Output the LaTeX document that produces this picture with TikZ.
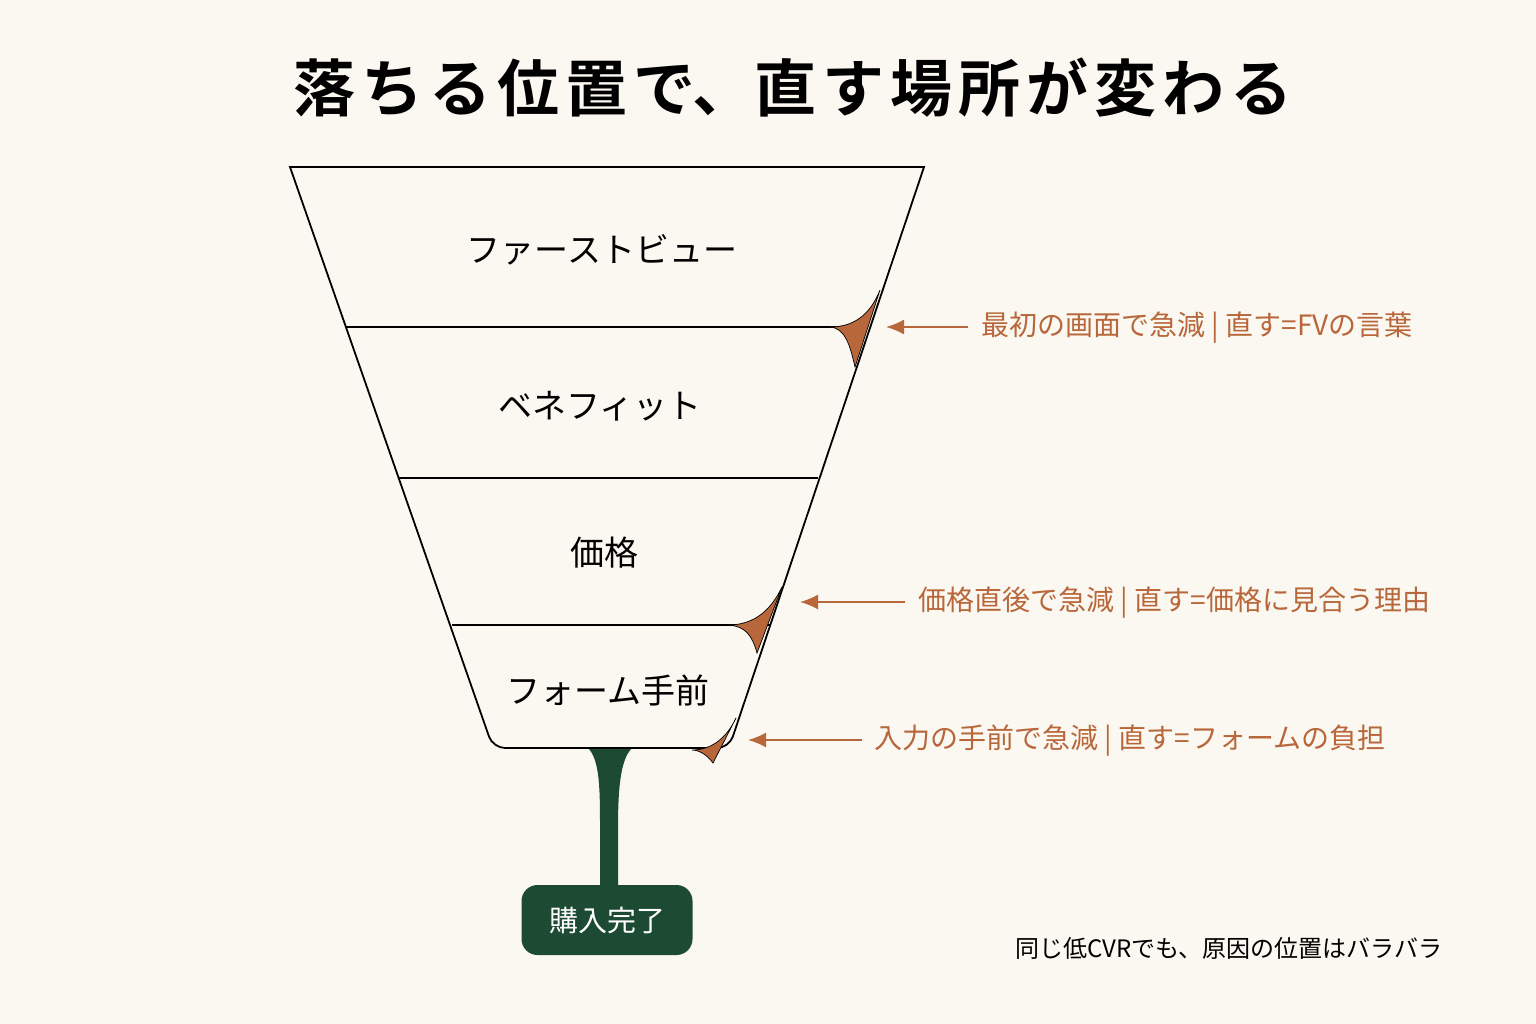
\documentclass[tikz,border=0pt]{standalone}
\usepackage{fontspec}
\newfontfamily\jp{Noto Sans CJK JP}
\newfontfamily\jpb{Noto Sans CJK JP Bold}
\definecolor{bg}{HTML}{FBF8F2}
\definecolor{rust}{HTML}{B8673A}
\definecolor{fgreen}{HTML}{1C4A32}
\newcommand\tk{\kern6pt}
\begin{document}
\begin{tikzpicture}[x=1pt,y=-1pt,
  stage/.style={font=\jp\fontsize{34}{36}\selectfont},
  note/.style={font=\jp\fontsize{28}{30}\selectfont,text=rust,anchor=west},
  fillet/.style={fill=rust,draw=black,line width=0.7pt},
  warn/.style={draw=rust,line width=1.8pt,-{Latex[length=18pt,width=15pt]}}]
\usetikzlibrary{arrows.meta}
\fill[bg] (0,0) rectangle (1536,1024);
\useasboundingbox (0,0) rectangle (1536,1024);
\node[font=\jpb\fontsize{62}{66}\selectfont] (title) at (793,88) {落\tk ち\tk る\tk 位\tk 置\tk で、直\tk す\tk 場\tk 所\tk が\tk 変\tk わ\tk る};
% stem
\fill[fgreen] (588,748) .. controls (600,760) and (600,790) .. (600,830) -- (600,890) -- (618,890) -- (618,830) .. controls (618,790) and (620,760) .. (632,748) -- cycle;
\node[fill=fgreen,rounded corners=16pt,minimum width=171pt,minimum height=70pt,text=white,font=\jp\fontsize{29}{30}\selectfont] (buy) at (607,920) {購入完了};
% funnel
\draw[line width=1.8pt,fill=bg] (290,167) -- (924,167) [rounded corners=12pt] -- (729,748) -- (493,748) [sharp corners] -- cycle;
\draw[line width=1.8pt] (346,327) -- (854,327);
\draw[line width=1.8pt] (399,478) -- (818,478);
\draw[line width=1.8pt] (452,625) -- (770,625);
\fill[fgreen] (590,750) -- (630,750) -- (622,756) -- (598,756) -- cycle;
% fillets
\draw[fillet] (830,327) .. controls (858,327) and (872,310) .. (880,290) -- (855,367) .. controls (850,345) and (845,328) .. cycle;
\draw[fillet] (728,625) .. controls (756,625) and (772,608) .. (782,587) -- (757,653) .. controls (752,635) and (745,626) .. cycle;
\draw[fillet] (692,750) .. controls (714,750) and (728,735) .. (736,718) -- (713,763) .. controls (708,756) and (700,750) .. cycle;
\node[stage] (s1) at (602,250) {ファーストビュー};
\node[stage] (s2) at (600,406) {ベネフィット};
\node[stage] (s3) at (604,553) {価格};
\node[stage] (s4) at (608,690) {フォーム手前};
\coordinate (p1) at (886,327); \coordinate (p2) at (800,602); \coordinate (p3) at (748,740);
\node[note] (n1) at (978,328) {最初の画面で急減 | 直す=FVの言葉};
\node[note] (n2) at (915,603) {価格直後で急減 | 直す=価格に見合う理由};
\node[note] (n3) at (871,741) {入力の手前で急減 | 直す=フォームの負担};
\draw[warn] (968,327) -- (p1);
\draw[warn] (905,602) -- (p2);
\draw[warn] (862,740) -- (p3);
\node[font=\jp\fontsize{24}{26}\selectfont,anchor=east] (foot) at (1446,948) {同じ低CVRでも、原因の位置はバラバラ};
\end{tikzpicture}
\end{document}
